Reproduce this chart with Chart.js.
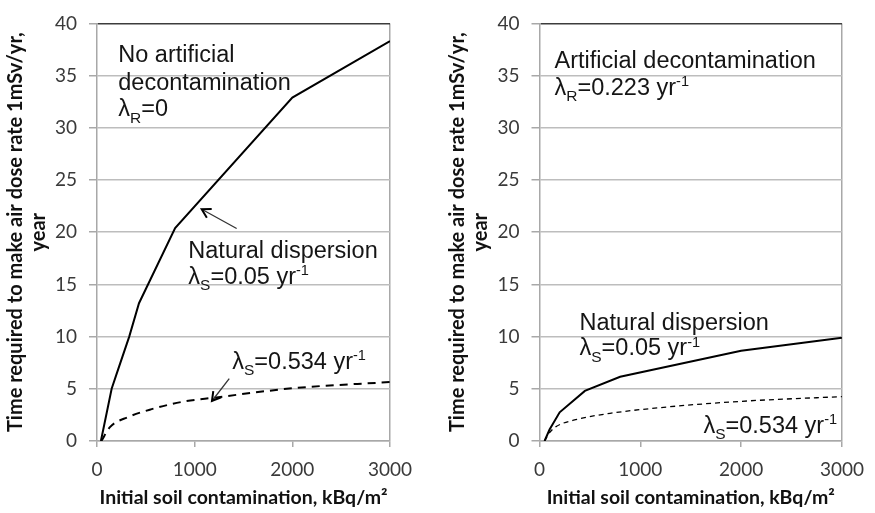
<!DOCTYPE html>
<html><head><meta charset="utf-8">
<script src="https://cdn.jsdelivr.net/npm/chart.js@4/dist/chart.umd.min.js"></script>
<style>
html,body{margin:0;padding:0;background:#fff;}
#wrap{position:relative;width:875px;height:513px;overflow:hidden;background:#fff;}
canvas{position:absolute;top:0;}
</style></head><body>
<div id="wrap">
<canvas id="c1" width="437" height="513" style="left:0;width:437px;height:513px"></canvas>
<canvas id="c2" width="438" height="513" style="left:437px;width:438px;height:513px"></canvas>
</div>
<script>
// ---- data ----
const xMin = 0, xMax = 3000, xStep = 1000;
const yMin = 0, yMax = 40, yStep = 5;
const xTitle = 'Initial soil contamination, kBq/m²';
const yTitle = ['Time required to make air dose rate 1mSv/yr,', 'year'];

// Left panel: no artificial decontamination
const leftSolidX = [40, 150, 200, 330, 430, 800, 2000, 3000];
const leftSolidY = [0, 5, 6.4, 10, 13.2, 20.4, 32.9, 38.3];
const leftDashX  = [45, 130, 320, 560, 900, 1200, 2000, 3000];
const leftDashY  = [0, 1.3, 2.3, 3.05, 3.8, 4.15, 5.05, 5.65];

// Right panel: artificial decontamination
const rightSolidX = [50, 100, 200, 450, 800, 2000, 3000];
const rightSolidY = [0, 1.1, 2.75, 4.8, 6.15, 8.65, 9.9];
const rightDashX  = [50, 100, 160, 385, 700, 1200, 2000, 3000];
const rightDashY  = [0, 0.8, 1.35, 2.1, 2.65, 3.2, 3.8, 4.25];

// annotation texts (parts: [text, kind]) and anchor points in data units
const leftNotes = [
  {x: 218, y: 36.26, parts: [['No artificial', 'n']]},
  {x: 218, y: 33.58, parts: [['decontamination', 'n']]},
  {x: 218, y: 31.1,  parts: [['λ', 'n'], ['R', 'sub'], ['=0', 'n']]},
  {x: 935, y: 17.54, parts: [['Natural dispersion', 'n']]},
  {x: 935, y: 15.05, parts: [['λ', 'n'], ['S', 'sub'], ['=0.05 yr', 'n'], ['-1', 'sup']]},
  {x: 1385, y: 6.94, parts: [['λ', 'n'], ['S', 'sub'], ['=0.534 yr', 'n'], ['-1', 'sup']]}
];
const leftArrows = [
  [1430, 20.35, 1072, 22.2],
  [1354, 5.98, 1177, 3.83]
];
const rightNotes = [
  {x: 149, y: 35.77, parts: [['Artificial decontamination', 'n']]},
  {x: 149, y: 33.18, parts: [['λ', 'n'], ['R', 'sub'], ['=0.223 yr', 'n'], ['-1', 'sup']]},
  {x: 397, y: 10.68, parts: [['Natural dispersion', 'n']]},
  {x: 397, y: 8.2,   parts: [['λ', 'n'], ['S', 'sub'], ['=0.05 yr', 'n'], ['-1', 'sup']]},
  {x: 1626, y: 0.78, parts: [['λ', 'n'], ['S', 'sub'], ['=0.534 yr', 'n'], ['-1', 'sup']]}
];
const rightArrows = [];

// ---- helpers ----
const pts = (xs, ys) => xs.map((v, i) => ({x: v, y: ys[i]}));
const NOTE_FONT = '"Liberation Sans", Arial, sans-serif';

function drawRich(ctx, x, y, parts, size) {
  let cx = x;
  for (const [t, k] of parts) {
    let fs = size, dy = 0;
    if (k === 'sub') { fs = size * 0.66; dy = size * 0.27; }
    else if (k === 'sup') { fs = size * 0.62; dy = -size * 0.36; }
    ctx.font = fs + 'px ' + NOTE_FONT;
    ctx.fillText(t, cx, y + dy);
    cx += ctx.measureText(t).width;
  }
}
function drawArrow(ctx, x1, y1, x2, y2) {
  ctx.strokeStyle = '#333';
  ctx.lineWidth = 1.3;
  ctx.beginPath(); ctx.moveTo(x1, y1); ctx.lineTo(x2, y2); ctx.stroke();
  const ang = Math.atan2(y2 - y1, x2 - x1);
  const L = 10, w = Math.PI / 6;
  ctx.strokeStyle = '#000';
  ctx.lineWidth = 2;
  ctx.beginPath();
  ctx.moveTo(x2 - L * Math.cos(ang - w), y2 - L * Math.sin(ang - w));
  ctx.lineTo(x2, y2);
  ctx.lineTo(x2 - L * Math.cos(ang + w), y2 - L * Math.sin(ang + w));
  ctx.stroke();
}
const notesPlugin = {
  id: 'notes',
  afterDatasetsDraw(chart, args, opts) {
    const {ctx, scales: {x, y}} = chart;
    ctx.save();
    ctx.fillStyle = '#151515';
    ctx.textBaseline = 'alphabetic';
    ctx.textAlign = 'left';
    for (const n of opts.notes) drawRich(ctx, x.getPixelForValue(n.x), y.getPixelForValue(n.y), n.parts, opts.size);
    for (const a of opts.arrows) drawArrow(ctx, x.getPixelForValue(a[0]), y.getPixelForValue(a[1]), x.getPixelForValue(a[2]), y.getPixelForValue(a[3]));
    ctx.restore();
  }
};

Chart.defaults.font.family = 'Lato, "Open Sans", sans-serif';
Chart.defaults.color = '#3a3a3a';

function makeChart(id, solid, dash, dashWidth, dashPattern, yWidth, padRight, titlePadTop, notes, arrows) {
  return new Chart(document.getElementById(id), {
    type: 'line',
    data: {
      datasets: [
        {data: solid, borderColor: '#000', borderWidth: 2, pointRadius: 0, tension: 0, fill: false},
        {data: dash, borderColor: '#000', borderWidth: dashWidth, borderDash: dashPattern, pointRadius: 0, cubicInterpolationMode: 'monotone', fill: false}
      ]
    },
    options: {
      responsive: false,
      animation: false,
      events: [],
      layout: {padding: {top: 13, right: padRight, left: 0, bottom: 0}},
      plugins: {
        legend: {display: false},
        tooltip: {enabled: false},
        notes: {notes: notes, arrows: arrows, size: 23.5}
      },
      scales: {
        x: {
          type: 'linear', min: xMin, max: xMax,
          ticks: {stepSize: xStep, font: {size: 19}, padding: 11, color: '#3a3a3a', maxRotation: 0,
                  callback: v => String(v)},
          grid: {
            color: c => (c.tick && c.tick.value === xMax) ? '#a8a8a8' : 'rgba(0,0,0,0)',
            tickColor: '#a8a8a8', lineWidth: 1.5, tickLength: 6, drawOnChartArea: true
          },
          border: {display: true, color: '#a8a8a8', width: 1.5},
          title: {display: true, text: xTitle, color: '#111', font: {size: 19.5, weight: 'bold'}, padding: {top: 0, bottom: 4}},
          afterFit: s => { s.height = 72; }
        },
        y: {
          type: 'linear', min: yMin, max: yMax,
          ticks: {stepSize: yStep, font: {size: 19}, padding: 12, color: '#3a3a3a', callback: v => String(v)},
          grid: {
            color: c => (c.tick && c.tick.value === yMax) ? '#3c3c3c' : '#bdbdbd',
            tickColor: '#a8a8a8', lineWidth: 1.5, tickLength: 8
          },
          border: {display: true, color: '#a8a8a8', width: 1.5},
          title: {display: true, text: yTitle, color: '#111', font: {size: 20, weight: 'bold', lineHeight: 1.15}, padding: {top: titlePadTop, bottom: 0}},
          afterFit: s => { s.width = yWidth; }
        }
      }
    },
    plugins: [notesPlugin]
  });
}

makeChart('c1', pts(leftSolidX, leftSolidY), pts(leftDashX, leftDashY), 2, [8, 6], 97, 47, 4.5, leftNotes, leftArrows);
makeChart('c2', pts(rightSolidX, rightSolidY), pts(rightDashX, rightDashY), 1.3, [5, 4], 102.5, 24, 9.5, rightNotes, rightArrows);
</script>
</body></html>
